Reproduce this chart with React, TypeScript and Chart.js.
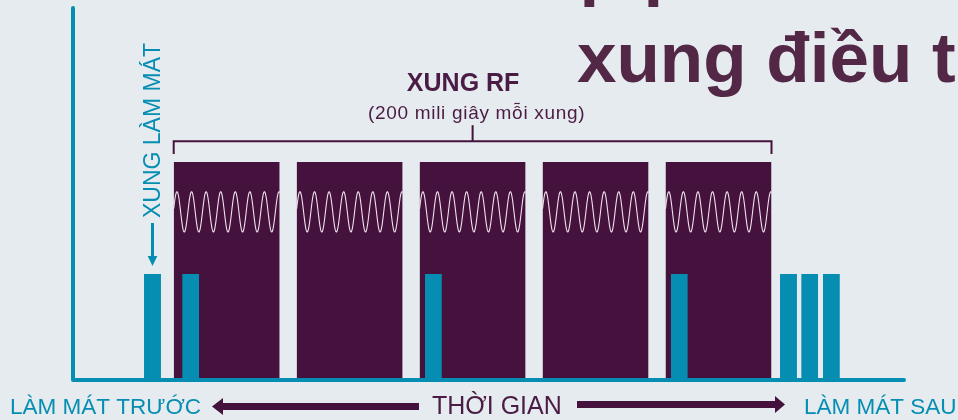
import React, { useEffect, useRef } from "react";
import { Chart, registerables } from "chart.js";

Chart.register(...registerables);

// ---- data (time in ms, level in arbitrary units 0..100) ----
const rfPulseStarts = [190, 422, 654, 886, 1118];
const rfPulseDurations = [200, 200, 200, 200, 200];
const rfPulseLevels = [58.6, 58.6, 58.6, 58.6, 58.6];

const coolingPulseStarts = [134, 206, 664, 1128, 1334, 1374, 1415];
const coolingPulseDurations = [32, 32, 32, 32, 32, 32, 32];
const coolingPulseLevels = [28.5, 28.5, 28.5, 28.5, 28.5, 28.5, 28.5];

const timeRange = [0, 1568];
const levelRange = [0, 100];

// RF carrier drawn inside each RF pulse
const waveFirstPeakMs = 6.2;
const wavePeriodMs = 27.5;
const waveCenterLevel = 45.2;
const waveAmplitude = 5.4;

// bracket over the RF pulses
const bracketLevels = [60.75, 64.2, 68.5];

// texts
const titleLines = ["p", "xung điều trị"];
const rfLabel = "XUNG RF";
const rfSubLabel = "(200 mili giây mỗi xung)";
const coolingLabel = "XUNG LÀM MÁT";
const axisLabels = ["LÀM MÁT TRƯỚC", "THỜI GIAN", "LÀM MÁT SAU"];

// ---- styles ----
const BG = "#e5ebee";
const TEAL = "#068eb2";
const PURPLE = "#44123d";
const TITLE = "#532846";
const FONT = "'Liberation Sans', Arial, sans-serif";

function rect(start: number, dur: number, level: number) {
  return [
    { x: start, y: 0 },
    { x: start, y: level },
    { x: start + dur, y: level },
    { x: start + dur, y: 0 },
  ];
}

const decorPlugin = {
  id: "decor",
  beforeDraw(chart: any) {
    const ctx = chart.ctx;
    ctx.save();
    ctx.fillStyle = BG;
    ctx.fillRect(0, 0, chart.width, chart.height);
    ctx.restore();
  },
  afterDatasetsDraw(chart: any) {
    const ctx = chart.ctx;
    const xs = chart.scales.x;
    const ys = chart.scales.y;
    ctx.save();
    // RF carrier waves
    ctx.strokeStyle = "#efe2ec";
    ctx.lineWidth = 1.1;
    rfPulseStarts.forEach((s, i) => {
      const e = s + rfPulseDurations[i];
      ctx.beginPath();
      for (let t = s; t <= e + 0.001; t += 0.25) {
        const v =
          waveCenterLevel +
          waveAmplitude * Math.cos((2 * Math.PI * (t - s - waveFirstPeakMs)) / wavePeriodMs);
        const px = xs.getPixelForValue(t);
        const py = ys.getPixelForValue(v);
        if (t === s) ctx.moveTo(px, py);
        else ctx.lineTo(px, py);
      }
      ctx.stroke();
    });
    ctx.restore();
  },
  afterDraw(chart: any) {
    const ctx = chart.ctx;
    const xs = chart.scales.x;
    const ys = chart.scales.y;
    ctx.save();

    // Title (cut off by the canvas)
    ctx.fillStyle = TITLE;
    ctx.font = `bold 71px ${FONT}`;
    ctx.textAlign = "left";
    ctx.textBaseline = "alphabetic";
    ctx.fillText(titleLines[0], 579.5, -7.7);
    ctx.fillText(titleLines[0], 643.5, -8.5);
    ctx.fillText(titleLines[1], 577, 82);

    // RF label above bracket
    const bStart = rfPulseStarts[0];
    const bEnd = rfPulseStarts[rfPulseStarts.length - 1] + rfPulseDurations[rfPulseDurations.length - 1];
    const bMid = xs.getPixelForValue((bStart + bEnd) / 2);
    ctx.fillStyle = "#4a1b44";
    ctx.textAlign = "center";
    ctx.font = `bold 25px ${FONT}`;
    ctx.fillText(rfLabel, bMid - 9.5, 91);
    ctx.font = `19px ${FONT}`;
    (ctx as any).letterSpacing = "0.7px";
    ctx.fillText(rfSubLabel, bMid + 4, 119);
    (ctx as any).letterSpacing = "0px";

    // cooling label (vertical) + arrow
    const cx = xs.getPixelForValue(coolingPulseStarts[0] + coolingPulseDurations[0] / 2);
    ctx.fillStyle = TEAL;
    ctx.save();
    ctx.translate(cx + 8, 130.5);
    ctx.rotate(-Math.PI / 2);
    ctx.font = `23px ${FONT}`;
    ctx.textAlign = "center";
    ctx.fillText(coolingLabel, 0, 0);
    ctx.restore();
    const tipY = ys.getPixelForValue(coolingPulseLevels[0]) - 8;
    ctx.strokeStyle = TEAL;
    ctx.lineWidth = 3;
    ctx.beginPath();
    ctx.moveTo(cx, 223);
    ctx.lineTo(cx, tipY - 8);
    ctx.stroke();
    ctx.beginPath();
    ctx.moveTo(cx - 4.8, tipY - 10);
    ctx.lineTo(cx + 4.8, tipY - 10);
    ctx.lineTo(cx, tipY);
    ctx.closePath();
    ctx.fill();

    // bottom labels
    ctx.textAlign = "left";
    ctx.fillStyle = TEAL;
    ctx.font = `22.5px ${FONT}`;
    ctx.fillText(axisLabels[0], 10, 414);
    ctx.fillText(axisLabels[2], 804, 414);
    ctx.fillStyle = "#4a1b44";
    ctx.font = `25px ${FONT}`;
    ctx.fillText(axisLabels[1], 432, 414);

    // time arrows
    ctx.fillStyle = PURPLE;
    ctx.fillRect(221, 403, 198, 7);
    ctx.beginPath();
    ctx.moveTo(212, 406.5);
    ctx.lineTo(223, 398);
    ctx.lineTo(223, 415);
    ctx.closePath();
    ctx.fill();
    ctx.fillRect(577, 401, 200, 7);
    ctx.beginPath();
    ctx.moveTo(785, 404.5);
    ctx.lineTo(775, 396);
    ctx.lineTo(775, 413);
    ctx.closePath();
    ctx.fill();

    ctx.restore();
  },
};

export default function App() {
  const ref = useRef<HTMLCanvasElement | null>(null);

  useEffect(() => {
    if (!ref.current) return;
    const datasets: any[] = [];

    rfPulseStarts.forEach((s, i) => {
      datasets.push({
        data: rect(s, rfPulseDurations[i], rfPulseLevels[i]),
        backgroundColor: PURPLE,
        borderColor: "transparent",
        borderWidth: 0,
        pointRadius: 0,
        fill: "origin",
        tension: 0,
        clip: false,
        order: 4,
      });
    });
    coolingPulseStarts.forEach((s, i) => {
      datasets.push({
        data: rect(s, coolingPulseDurations[i], coolingPulseLevels[i]),
        backgroundColor: TEAL,
        borderColor: "transparent",
        borderWidth: 0,
        pointRadius: 0,
        fill: "origin",
        tension: 0,
        clip: false,
        order: 3,
      });
    });
    const bStart = rfPulseStarts[0];
    const bEnd = rfPulseStarts[rfPulseStarts.length - 1] + rfPulseDurations[rfPulseDurations.length - 1];
    datasets.push({
      data: [
        { x: bStart, y: bracketLevels[0] },
        { x: bStart, y: bracketLevels[1] },
        { x: bEnd, y: bracketLevels[1] },
        { x: bEnd, y: bracketLevels[0] },
      ],
      borderColor: PURPLE,
      borderWidth: 2,
      pointRadius: 0,
      fill: false,
      clip: false,
      order: 2,
    });
    datasets.push({
      data: [
        { x: (bStart + bEnd) / 2, y: bracketLevels[1] },
        { x: (bStart + bEnd) / 2, y: bracketLevels[2] },
      ],
      borderColor: PURPLE,
      borderWidth: 2,
      pointRadius: 0,
      fill: false,
      clip: false,
      order: 2,
    });
    // axes
    datasets.push({
      data: [
        { x: timeRange[0], y: levelRange[1] },
        { x: timeRange[0], y: levelRange[0] },
        { x: timeRange[1], y: levelRange[0] },
      ],
      borderColor: TEAL,
      borderWidth: 4,
      borderCapStyle: "round",
      borderJoinStyle: "round",
      pointRadius: 0,
      fill: false,
      clip: false,
      order: 1,
    });

    const chart = new Chart(ref.current, {
      type: "line",
      data: { datasets },
      options: {
        animation: false,
        responsive: false,
        maintainAspectRatio: false,
        devicePixelRatio: 1,
        events: [],
        layout: { padding: { left: 73, right: 54, top: 8, bottom: 40 } },
        scales: {
          x: { type: "linear", min: timeRange[0], max: timeRange[1], display: false },
          y: { type: "linear", min: levelRange[0], max: levelRange[1], display: false },
        },
        plugins: {
          legend: { display: false },
          tooltip: { enabled: false },
        },
      },
      plugins: [decorPlugin],
    });
    return () => chart.destroy();
  }, []);

  return (
    <div style={{ position: "fixed", left: 0, top: 0, width: 958, height: 420, background: BG }}>
      <canvas ref={ref} width={958} height={420} style={{ display: "block" }} />
    </div>
  );
}
